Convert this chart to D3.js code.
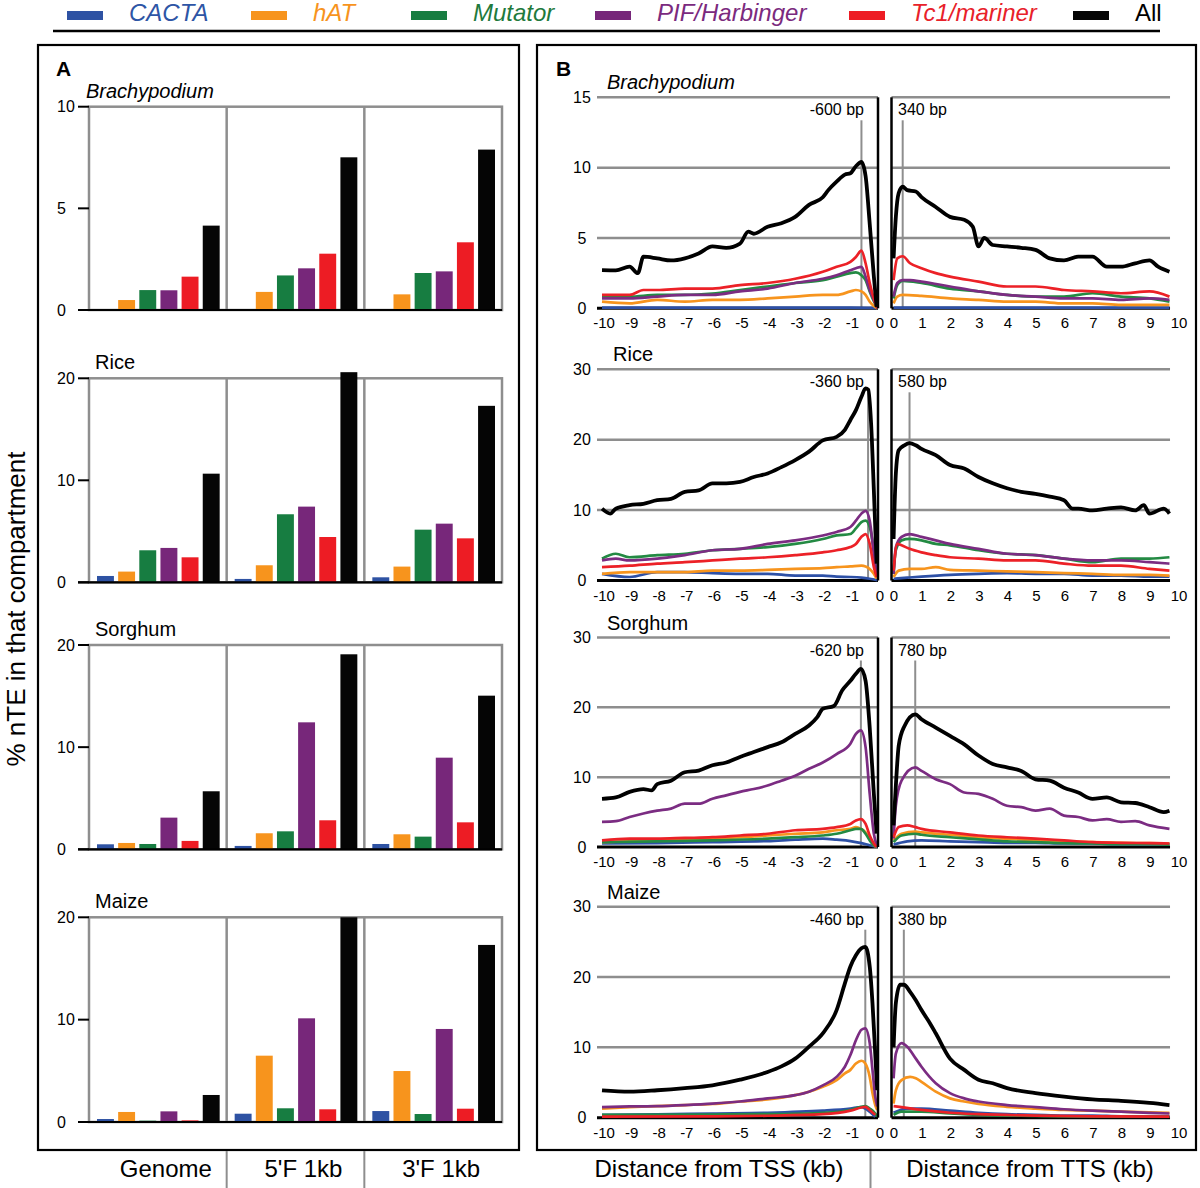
<!DOCTYPE html>
<html><head><meta charset="utf-8">
<script src="https://cdn.jsdelivr.net/npm/d3@7"></script>
<style>
body{margin:0;background:#fff}
svg{display:block}
text{font-family:"Liberation Sans",Arial,Helvetica,sans-serif}
</style>
</head><body>
<svg id="chart" width="1200" height="1188"></svg>
<script>
// ---------- DATA ----------
const families = ["CACTA","hAT","Mutator","PIF/Harbinger","Tc1/mariner","All"];
const barColors = ["#2e52a3","#f7941d","#177d41","#77277a","#ed1c24","#050505"];
const textColors = ["#2e55a5","#f7941d","#1f7a3d","#7b2a7e","#e8212a","#000000"];
const lineColors = ["#2d50a6","#f7941d","#238a43","#7b2c82","#ec2127","#000000"];
const compartments = ["Genome","5'F 1kb","3'F 1kb"];
const speciesNames = ["Brachypodium","Rice","Sorghum","Maize"];
const speciesItalic = [true,false,false,false];

const aTicks = [[0,5,10],[0,10,20],[0,10,20],[0,10,20]];
const aMax = [10,20,20,20];
const bTicks = [[0,5,10,15],[0,10,20,30],[0,10,20,30],[0,10,20,30]];
const bMax = [15,30,30,30];
const tssTicks = [-10,-9,-8,-7,-6,-5,-4,-3,-2,-1,0];
const ttsTicks = [0,1,2,3,4,5,6,7,8,9,10];

// % nTE per compartment, rows = compartments, cols = families
const brachyBars = [
  [0.03,0.49,0.98,0.97,1.64,4.15],
  [0.03,0.89,1.70,2.05,2.77,7.51],
  [0.03,0.77,1.82,1.90,3.33,7.89]];
const riceBars = [
  [0.62,1.05,3.14,3.37,2.45,10.65],
  [0.33,1.67,6.67,7.42,4.44,20.6],
  [0.49,1.54,5.16,5.75,4.31,17.3]];
const sorghumBars = [
  [0.49,0.62,0.52,3.10,0.82,5.68],
  [0.33,1.57,1.76,12.43,2.84,19.09],
  [0.52,1.47,1.24,8.97,2.64,15.04]];
const maizeBars = [
  [0.29,0.98,0.13,1.04,0.16,2.64],
  [0.81,6.48,1.34,10.13,1.24,20.0],
  [1.07,4.98,0.78,9.09,1.30,17.3]];

// peak positions (kb) and labels
const tssPeaks = [-0.6,-0.36,-0.62,-0.46];
const ttsPeaks = [0.34,0.58,0.78,0.38];
const tssPeakLabels = ["-600 bp","-360 bp","-620 bp","-460 bp"];
const ttsPeakLabels = ["340 bp","580 bp","780 bp","380 bp"];

// profiles: [kb, % nTE]
const brachyTSS = {
  "CACTA":[[-10,0.05],[-5,0.05],[-1,0.05],[-0.02,0.03]],
  "hAT":[[-10,0.47],[-9,0.35],[-8,0.6],[-7,0.47],[-6,0.6],[-5,0.6],[-4,0.7],[-3,0.83],[-2,0.95],[-1.5,0.95],[-1,1.2],[-0.8,1.3],[-0.6,1.2],[-0.45,0.95],[-0.3,0.47],[-0.15,0.17],[-0.02,0]],
  "Mutator":[[-10,0.83],[-9,0.83],[-8,0.95],[-7,0.95],[-6,1.05],[-5,1.3],[-4,1.55],[-3,1.8],[-2,2.0],[-1.5,2.25],[-1,2.5],[-0.8,2.55],[-0.6,2.35],[-0.45,2.0],[-0.3,1.2],[-0.15,0.5],[-0.02,0]],
  "PIF/Harbinger":[[-10,0.7],[-9,0.7],[-8,0.83],[-7,0.95],[-6,0.95],[-5,1.2],[-4,1.4],[-3,1.8],[-2,2.1],[-1.5,2.35],[-1,2.7],[-0.8,2.85],[-0.6,2.95],[-0.45,2.25],[-0.3,1.3],[-0.15,0.6],[-0.02,0]],
  "Tc1/mariner":[[-10,0.95],[-9,0.95],[-8.5,1.3],[-8,1.3],[-7,1.4],[-6,1.4],[-5,1.65],[-4,1.8],[-3,2.1],[-2,2.6],[-1.5,2.95],[-1,3.3],[-0.8,3.65],[-0.6,4.1],[-0.45,3.2],[-0.3,1.8],[-0.15,0.7],[-0.02,0]],
  "All":[[-10,2.72],[-9.5,2.7],[-9,2.96],[-8.7,2.5],[-8.5,3.67],[-8,3.55],[-7.5,3.4],[-7,3.55],[-6.5,3.9],[-6,4.4],[-5.5,4.3],[-5,4.6],[-4.7,5.45],[-4.5,5.3],[-4,5.8],[-3.5,6.05],[-3,6.5],[-2.5,7.35],[-2,7.9],[-1.8,8.4],[-1.5,9.0],[-1.2,9.5],[-1,9.6],[-0.8,10.1],[-0.6,10.4],[-0.45,9.4],[-0.3,6.0],[-0.15,2.25],[-0.05,0.1]]
};
const brachyTTS = {
  "CACTA":[[0.02,0.05],[5,0.05],[9.7,0.05]],
  "hAT":[[0.02,0.35],[0.15,0.83],[0.34,0.95],[1,0.88],[2,0.7],[3,0.6],[4,0.47],[5,0.47],[6,0.35],[7,0.35],[8,0.24],[9,0.24],[9.7,0.24]],
  "Mutator":[[0.02,0.7],[0.15,1.65],[0.34,1.95],[1,1.8],[2,1.4],[3,1.2],[4,0.95],[5,0.83],[6,0.83],[7,1.07],[8,0.83],[9,0.7],[9.7,0.47]],
  "PIF/Harbinger":[[0.02,0.83],[0.15,1.8],[0.34,2.0],[0.6,2.0],[1,1.9],[2,1.55],[3,1.2],[4,0.95],[5,0.83],[6,0.7],[7,0.7],[8,0.6],[9,0.7],[9.7,0.6]],
  "Tc1/mariner":[[0.02,2.0],[0.15,3.55],[0.34,3.7],[0.6,3.2],[1,2.85],[1.5,2.5],[2,2.25],[3,1.9],[4,1.55],[5,1.55],[6,1.3],[7,1.2],[8,1.07],[9,1.2],[9.7,0.83]],
  "All":[[0.02,3.55],[0.1,6.5],[0.2,8.2],[0.34,8.65],[0.5,8.4],[0.8,8.3],[1,7.9],[1.5,7.2],[2,6.5],[2.5,6.3],[2.8,5.8],[3,4.4],[3.2,5.0],[3.5,4.5],[4,4.4],[4.5,4.3],[5,4.15],[5.5,3.55],[6,3.4],[6.5,3.67],[7,3.67],[7.5,2.96],[8,2.96],[8.5,3.2],[9,3.4],[9.3,2.96],[9.7,2.6]]
};
const riceTSS = {
  "CACTA":[[-10,0.95],[-9,0.5],[-8,1.2],[-7,1.2],[-6,1.05],[-5,0.95],[-4,0.95],[-3,0.7],[-2,0.7],[-1.5,0.55],[-1,0.5],[-0.6,0.4],[-0.3,0.25],[-0.02,0.05]],
  "hAT":[[-10,0.95],[-9,1.2],[-8,1.2],[-7,1.2],[-6,1.4],[-5,1.4],[-4,1.5],[-3,1.65],[-2,1.75],[-1.5,1.9],[-1,2.0],[-0.6,2.1],[-0.45,2.0],[-0.3,1.65],[-0.15,0.95],[-0.05,0.25]],
  "Mutator":[[-10,3.1],[-9.5,3.8],[-9,3.3],[-8,3.6],[-7,3.8],[-6,4.3],[-5,4.5],[-4,4.75],[-3,5.2],[-2,5.9],[-1.5,6.4],[-1,6.6],[-0.8,7.4],[-0.6,8.3],[-0.45,8.5],[-0.3,7.6],[-0.15,4.3],[-0.05,1.4]],
  "PIF/Harbinger":[[-10,2.85],[-9.5,3.1],[-9,2.85],[-8,3.1],[-7,3.6],[-6,4.3],[-5,4.5],[-4,5.2],[-3,5.7],[-2,6.4],[-1.5,6.9],[-1,7.6],[-0.8,8.5],[-0.6,9.5],[-0.45,9.9],[-0.3,8.5],[-0.15,3.8],[-0.05,0.95]],
  "Tc1/mariner":[[-10,1.9],[-9,2.1],[-8,2.4],[-7,2.6],[-6,2.85],[-5,3.1],[-4,3.3],[-3,3.6],[-2,4.0],[-1.5,4.3],[-1,4.75],[-0.8,5.2],[-0.6,6.2],[-0.45,6.6],[-0.3,5.2],[-0.15,1.9],[-0.05,0.5]],
  "All":[[-10,10.2],[-9.7,9.5],[-9.5,10.2],[-9,10.7],[-8.5,10.9],[-8,11.4],[-7.5,11.6],[-7,12.6],[-6.5,12.8],[-6,13.8],[-5.5,13.8],[-5,14.0],[-4.5,14.7],[-4,15.2],[-3.5,16.1],[-3,17.1],[-2.5,18.3],[-2,19.9],[-1.5,20.4],[-1.2,21.4],[-1,22.8],[-0.8,24.2],[-0.6,26.1],[-0.45,27.3],[-0.35,27.1],[-0.25,22.3],[-0.15,12.8],[-0.05,2.4]]
};
const riceTTS = {
  "CACTA":[[0.02,0.25],[0.5,0.4],[1,0.55],[2,0.8],[3,0.95],[4,1.05],[5,0.95],[6,0.95],[7,0.7],[8,0.7],[9,0.55],[9.7,0.55]],
  "hAT":[[0.02,0.5],[0.2,1.4],[0.58,1.65],[1,1.65],[1.5,1.9],[2,1.5],[3,1.4],[4,1.3],[5,1.2],[6,1.05],[7,0.95],[8,0.8],[9,0.8],[9.7,0.7]],
  "Mutator":[[0.02,0.95],[0.1,4.3],[0.3,5.7],[0.58,5.9],[1,5.7],[1.5,5.2],[2,5.0],[3,4.3],[4,3.8],[5,3.6],[6,3.1],[7,2.6],[8,3.1],[9,3.1],[9.7,3.3]],
  "PIF/Harbinger":[[0.02,0.95],[0.1,4.75],[0.3,6.2],[0.58,6.6],[1,6.2],[1.5,5.7],[2,5.2],[3,4.5],[4,3.8],[5,3.6],[6,3.1],[7,2.85],[8,2.85],[9,2.6],[9.7,2.4]],
  "Tc1/mariner":[[0.02,1.4],[0.15,5.2],[0.3,5.0],[0.58,4.5],[1,4.0],[1.5,3.6],[2,3.3],[3,3.1],[4,2.85],[5,2.85],[6,2.4],[7,2.1],[8,2.1],[9,1.65],[9.7,1.4]],
  "All":[[0.02,5.9],[0.1,15.2],[0.2,18.5],[0.4,19.2],[0.58,19.5],[0.8,19.2],[1,18.7],[1.5,17.8],[2,16.4],[2.5,15.9],[3,14.7],[3.5,13.8],[4,13.1],[4.5,12.6],[5,12.3],[5.5,11.9],[6,11.4],[6.3,10.2],[6.5,10.2],[7,9.95],[7.5,10.2],[8,10.4],[8.5,9.95],[8.8,10.7],[9,9.5],[9.5,10.2],[9.7,9.5]]
};
const sorghumTSS = {
  "CACTA":[[-10,0.5],[-8,0.55],[-6,0.7],[-4,0.85],[-3,1.05],[-2,1.2],[-1.5,1.05],[-1,0.85],[-0.6,0.55],[-0.3,0.25],[-0.02,0]],
  "hAT":[[-10,0.7],[-8,0.95],[-6,1.2],[-4,1.65],[-3,1.9],[-2,2.1],[-1.5,2.4],[-1,2.6],[-0.8,2.85],[-0.62,2.6],[-0.45,2.1],[-0.3,1.2],[-0.15,0.25],[-0.05,0]],
  "Mutator":[[-10,0.7],[-8,0.8],[-6,0.95],[-4,1.2],[-3,1.4],[-2,1.65],[-1.5,1.9],[-1,2.4],[-0.8,2.6],[-0.62,2.6],[-0.45,1.9],[-0.3,0.95],[-0.15,0.25],[-0.05,0]],
  "PIF/Harbinger":[[-10,3.6],[-9.5,3.7],[-9,4.3],[-8.5,4.8],[-8,5.2],[-7.5,5.5],[-7,6.2],[-6.5,6.2],[-6,6.9],[-5.5,7.4],[-5,7.9],[-4.5,8.3],[-4,8.8],[-3.5,9.5],[-3,10.2],[-2.5,11.2],[-2,12.1],[-1.5,13.3],[-1,14.8],[-0.8,16.2],[-0.62,16.7],[-0.45,14.3],[-0.3,7.6],[-0.15,1.9],[-0.05,0.25]],
  "Tc1/mariner":[[-10,0.95],[-9,1.2],[-8,1.2],[-7,1.3],[-6,1.4],[-5,1.65],[-4,1.9],[-3,2.4],[-2,2.6],[-1.5,2.85],[-1,3.3],[-0.8,3.8],[-0.62,4.0],[-0.45,3.3],[-0.3,1.65],[-0.15,0.5],[-0.05,0]],
  "All":[[-10,6.9],[-9.5,7.1],[-9,7.9],[-8.5,8.3],[-8.2,8.1],[-8,9.0],[-7.5,9.5],[-7,10.7],[-6.5,10.95],[-6,11.7],[-5.5,12.1],[-5,12.9],[-4.5,13.6],[-4,14.3],[-3.5,15.0],[-3,16.2],[-2.5,17.4],[-2.2,18.6],[-2,19.8],[-1.6,20.2],[-1.3,22.4],[-1,23.8],[-0.8,24.8],[-0.62,25.5],[-0.45,23.8],[-0.3,17.1],[-0.15,7.6],[-0.05,1.9]]
};
const sorghumTTS = {
  "CACTA":[[0.02,0.35],[0.5,0.8],[1,0.95],[2,0.8],[3,0.7],[4,0.6],[5,0.6],[6,0.5],[7,0.5],[8,0.4],[9,0.4],[9.7,0.4]],
  "hAT":[[0.02,0.95],[0.3,1.9],[0.78,2.2],[1,2.1],[2,1.75],[3,1.4],[4,1.2],[5,0.95],[6,0.8],[7,0.7],[8,0.6],[9,0.55],[9.7,0.5]],
  "Mutator":[[0.02,0.7],[0.3,1.65],[0.78,1.9],[1,1.75],[2,1.4],[3,1.1],[4,0.8],[5,0.7],[6,0.55],[7,0.5],[8,0.4],[9,0.4],[9.7,0.35]],
  "PIF/Harbinger":[[0.02,1.2],[0.1,5.9],[0.3,9.5],[0.78,11.4],[1,10.9],[1.5,9.7],[2,9.0],[2.5,7.8],[3,7.6],[3.5,6.9],[4,5.9],[4.5,5.7],[5,5.2],[5.5,5.5],[6,4.5],[6.5,4.3],[7,3.8],[7.5,4.0],[8,3.6],[8.5,3.7],[9,3.1],[9.7,2.6]],
  "Tc1/mariner":[[0.02,1.4],[0.2,2.85],[0.5,3.1],[0.78,2.85],[1,2.6],[2,2.1],[3,1.65],[4,1.4],[5,1.2],[6,0.95],[7,0.7],[8,0.6],[9,0.55],[9.7,0.5]],
  "All":[[0.02,3.1],[0.1,8.8],[0.2,14.5],[0.4,17.3],[0.78,19.0],[1,18.3],[1.5,17.1],[2,15.9],[2.5,14.7],[3,13.1],[3.5,11.9],[4,11.4],[4.5,10.9],[5,9.7],[5.5,9.5],[6,8.5],[6.5,7.8],[7,6.9],[7.5,7.1],[8,6.4],[8.5,6.3],[9,5.7],[9.5,5.0],[9.7,5.2]]
};
const maizeTSS = {
  "CACTA":[[-10,0.4],[-8,0.47],[-6,0.6],[-4,0.7],[-2,1.0],[-1,1.3],[-0.6,1.5],[-0.46,1.3],[-0.3,0.85],[-0.1,0.15]],
  "hAT":[[-10,1.3],[-9,1.5],[-8,1.65],[-7,1.8],[-6,1.95],[-5,2.3],[-4,2.6],[-3,3.2],[-2.5,3.7],[-2,4.4],[-1.5,5.35],[-1.2,6.3],[-1,6.8],[-0.8,7.7],[-0.6,8.1],[-0.46,7.7],[-0.3,5.8],[-0.2,3.5],[-0.1,1.8],[-0.03,1.1]],
  "Mutator":[[-10,0.4],[-6,0.45],[-4,0.5],[-2,0.7],[-1,1.1],[-0.6,1.55],[-0.46,1.65],[-0.3,1.3],[-0.1,0.6],[-0.03,0.15]],
  "PIF/Harbinger":[[-10,1.5],[-9,1.6],[-8,1.65],[-7,1.8],[-6,2.0],[-5,2.3],[-4,2.75],[-3,3.2],[-2.5,3.7],[-2,4.6],[-1.5,5.8],[-1.2,7.25],[-1,8.9],[-0.8,11.0],[-0.6,12.5],[-0.46,12.7],[-0.3,10.6],[-0.2,6.8],[-0.1,3.0],[-0.03,1.6]],
  "Tc1/mariner":[[-10,0.15],[-6,0.2],[-4,0.28],[-2,0.5],[-1,1.0],[-0.6,1.45],[-0.46,1.55],[-0.3,1.1],[-0.1,0.4]],
  "All":[[-10,3.9],[-9,3.7],[-8,3.9],[-7,4.2],[-6,4.6],[-5,5.4],[-4,6.5],[-3.5,7.3],[-3,8.4],[-2.5,10.1],[-2,12.0],[-1.5,15.3],[-1.2,19.1],[-1,21.5],[-0.8,23.1],[-0.6,24.1],[-0.46,24.3],[-0.3,21.5],[-0.2,16.3],[-0.1,9.1],[-0.03,3.9]]
};
const maizeTTS = {
  "CACTA":[[0.02,0.7],[0.5,1.3],[1,1.3],[2,1.0],[3,0.7],[4,0.5],[5,0.4],[6,0.3],[7,0.3],[8,0.2],[9,0.2],[9.7,0.15]],
  "hAT":[[0.02,2.0],[0.1,3.9],[0.3,5.35],[0.6,5.8],[0.8,5.6],[1,5.1],[1.5,3.7],[2,2.75],[2.5,2.3],[3,1.95],[4,1.55],[5,1.3],[6,1.1],[7,1.0],[8,0.85],[9,0.75],[9.7,0.7]],
  "Mutator":[[0.02,0.4],[0.3,0.85],[1,0.85],[2,0.6],[3,0.4],[5,0.25],[7,0.15],[9.7,0.15]],
  "PIF/Harbinger":[[0.02,5.6],[0.1,9.1],[0.3,10.6],[0.5,10.1],[0.8,8.4],[1,7.25],[1.5,4.9],[2,3.5],[2.5,2.75],[3,2.3],[4,1.8],[5,1.5],[6,1.2],[7,1.0],[8,0.85],[9,0.7],[9.7,0.6]],
  "Tc1/mariner":[[0.02,1.65],[0.3,1.5],[1,1.1],[2,0.7],[3,0.5],[5,0.3],[7,0.2],[9.7,0.15]],
  "All":[[0.02,10.0],[0.1,16.3],[0.25,18.9],[0.38,18.9],[0.6,17.9],[0.8,16.7],[1,15.3],[1.3,13.4],[1.5,12.0],[2,8.4],[2.5,6.8],[3,5.4],[3.5,4.9],[4,4.2],[5,3.5],[6,3.0],[7,2.6],[8,2.4],[9,2.1],[9.7,1.8]]
};

const allBars = [brachyBars, riceBars, sorghumBars, maizeBars];
const allTSS = [brachyTSS, riceTSS, sorghumTSS, maizeTSS];
const allTTS = [brachyTTS, riceTTS, sorghumTTS, maizeTTS];

// ---------- LAYOUT ----------
const svg = d3.select("#chart");
const GRID = "#8e8e8e";
const aTop = [106.7, 378.3, 645, 917.3];
const aBot = [310, 582.3, 849.3, 1122];
const bTop = [97.3, 369.3, 637.5, 906.7];
const bBot = [308.3, 580.5, 847, 1117.7];
const aLeft = 89, aRight = 502;

// Legend
const legX = [67, 251, 411, 595, 849, 1073];
const leg = svg.append("g");
families.forEach((f, i) => {
  leg.append("rect").attr("x", legX[i]).attr("y", 11).attr("width", 36).attr("height", 9).attr("fill", barColors[i]);
  leg.append("text").attr("x", legX[i] + 62).attr("y", 21)
    .attr("font-size", 24).attr("font-style", f === "All" ? "normal" : "italic")
    .attr("fill", textColors[i]).text(f);
});
leg.append("line").attr("x1", 53).attr("x2", 1160).attr("y1", 31).attr("y2", 31).attr("stroke", "#000").attr("stroke-width", 2.5);

// Panel frames
svg.append("rect").attr("x", 38).attr("y", 45).attr("width", 481).attr("height", 1105).attr("fill", "none").attr("stroke", "#000").attr("stroke-width", 2.2);
svg.append("rect").attr("x", 537).attr("y", 45).attr("width", 659).attr("height", 1105).attr("fill", "none").attr("stroke", "#000").attr("stroke-width", 2.2);
svg.append("text").attr("x", 56).attr("y", 76).attr("font-size", 21).attr("font-weight", "bold").text("A");
svg.append("text").attr("x", 556).attr("y", 76).attr("font-size", 21).attr("font-weight", "bold").text("B");

// ---------- PANEL A ----------
const gx = d3.scaleBand(compartments, [aLeft, aRight]);
speciesNames.forEach((sp, i) => {
  const g = svg.append("g");
  const y = d3.scaleLinear([0, aMax[i]], [aBot[i], aTop[i]]);
  g.append("rect").attr("x", aLeft).attr("y", y(aMax[i])).attr("width", aRight - aLeft).attr("height", y(0) - y(aMax[i]))
    .attr("fill", "none").attr("stroke", GRID).attr("stroke-width", 2.5);
  compartments.slice(1).forEach(c => {
    g.append("line").attr("x1", gx(c)).attr("x2", gx(c)).attr("y1", y(aMax[i])).attr("y2", y(0)).attr("stroke", GRID).attr("stroke-width", 2.5);
  });
  allBars[i].forEach((vals, j) => {
    const x0 = gx(compartments[j]);
    const bx = d3.scaleBand(families, [x0 + 8, x0 + gx.bandwidth() - 7]).paddingInner(0.2);
    g.selectAll(null).data(vals).join("rect")
      .attr("x", (d, k) => bx(families[k]))
      .attr("y", d => y(d))
      .attr("width", bx.bandwidth())
      .attr("height", d => y(0) - y(d))
      .attr("fill", (d, k) => barColors[k]);
  });
  g.append("line").attr("x1", 78).attr("x2", aRight).attr("y1", y(0)).attr("y2", y(0)).attr("stroke", "#000").attr("stroke-width", 2.2);
  aTicks[i].forEach(t => {
    g.append("line").attr("x1", 78).attr("x2", aLeft).attr("y1", y(t)).attr("y2", y(t)).attr("stroke", "#000").attr("stroke-width", 2);
    g.append("text").attr("x", 57).attr("y", y(t)).attr("dy", "0.36em").attr("font-size", 16).text(t);
  });
  g.append("text").attr("x", i === 0 ? 86 : 95).attr("y", y(aMax[i]) - 9).attr("font-size", 20)
    .attr("font-style", speciesItalic[i] ? "italic" : "normal").text(sp);
});
// A bottom labels
compartments.forEach(c => {
  svg.append("text").attr("x", gx(c) + gx.bandwidth() / 2 + 8).attr("y", 1177).attr("text-anchor", "middle").attr("font-size", 24).text(c);
});
compartments.slice(1).forEach(c => {
  svg.append("line").attr("x1", gx(c)).attr("x2", gx(c)).attr("y1", 1151).attr("y2", 1188).attr("stroke", GRID).attr("stroke-width", 2);
});
svg.append("text").attr("transform", "translate(16,609) rotate(-90)").attr("text-anchor", "middle").attr("dy", "0.36em")
  .attr("font-size", 26).text("% nTE in that compartment");

// ---------- PANEL B ----------
const xL = d3.scaleLinear([-10, 0], [602, 878]);
const xR = d3.scaleLinear([0, 10], [893, 1178]);
const gridL0 = xL(-10) - 5, gridL1 = xL(0), gridR0 = xR(0) - 1.5, gridR1 = xR(9.72);
speciesNames.forEach((sp, i) => {
  const g = svg.append("g");
  const y = d3.scaleLinear([0, bMax[i]], [bBot[i], bTop[i]]);
  bTicks[i].filter(t => t > 0).forEach(t => {
    g.append("line").attr("x1", gridL0).attr("x2", gridL1).attr("y1", y(t)).attr("y2", y(t)).attr("stroke", GRID).attr("stroke-width", 2.5);
    g.append("line").attr("x1", gridR0).attr("x2", gridR1).attr("y1", y(t)).attr("y2", y(t)).attr("stroke", GRID).attr("stroke-width", 2.5);
  });
  // peak markers
  g.append("line").attr("x1", xL(tssPeaks[i])).attr("x2", xL(tssPeaks[i])).attr("y1", y(bMax[i]) + 23).attr("y2", y(0)).attr("stroke", GRID).attr("stroke-width", 2);
  g.append("line").attr("x1", xR(ttsPeaks[i])).attr("x2", xR(ttsPeaks[i])).attr("y1", y(bMax[i]) + 23).attr("y2", y(0)).attr("stroke", GRID).attr("stroke-width", 2);
  g.append("text").attr("x", 864).attr("y", y(bMax[i]) + 18).attr("text-anchor", "end").attr("font-size", 16).text(tssPeakLabels[i]);
  g.append("text").attr("x", 898).attr("y", y(bMax[i]) + 18).attr("font-size", 16).text(ttsPeakLabels[i]);
  // baseline
  g.append("line").attr("x1", gridL0).attr("x2", gridL1).attr("y1", y(0)).attr("y2", y(0)).attr("stroke", "#000").attr("stroke-width", 3);
  g.append("line").attr("x1", gridR0).attr("x2", gridR1).attr("y1", y(0)).attr("y2", y(0)).attr("stroke", "#000").attr("stroke-width", 3);
  // curves
  const lineL = d3.line().x(d => xL(d[0])).y(d => y(d[1])).curve(d3.curveMonotoneX);
  const lineR = d3.line().x(d => xR(d[0])).y(d => y(d[1])).curve(d3.curveMonotoneX);
  families.forEach((f, k) => {
    const w = f === "All" ? 3.8 : 2.7;
    g.append("path").attr("d", lineL(allTSS[i][f])).attr("fill", "none").attr("stroke", lineColors[k]).attr("stroke-width", w).attr("stroke-linejoin", "round");
    g.append("path").attr("d", lineR(allTTS[i][f])).attr("fill", "none").attr("stroke", lineColors[k]).attr("stroke-width", w).attr("stroke-linejoin", "round");
  });
  // black frame verticals
  g.append("line").attr("x1", xL(0)).attr("x2", xL(0)).attr("y1", y(bMax[i])).attr("y2", y(0)).attr("stroke", "#000").attr("stroke-width", 2.5);
  g.append("line").attr("x1", gridR0).attr("x2", gridR0).attr("y1", y(bMax[i])).attr("y2", y(0)).attr("stroke", "#000").attr("stroke-width", 2.5);
  // y tick labels
  bTicks[i].forEach(t => {
    g.append("text").attr("x", 582).attr("y", y(t)).attr("dy", "0.36em").attr("text-anchor", "middle").attr("font-size", 16).text(t);
  });
  // x tick labels
  tssTicks.forEach(t => {
    g.append("text").attr("x", xL(t) + 2).attr("y", y(0) + 20).attr("text-anchor", "middle").attr("font-size", 15).text(t);
  });
  ttsTicks.forEach(t => {
    g.append("text").attr("x", xR(t) + 1).attr("y", y(0) + 20).attr("text-anchor", "middle").attr("font-size", 15).text(t);
  });
  g.append("text").attr("x", i === 1 ? 613 : 607).attr("y", y(bMax[i]) - 8).attr("font-size", 20)
    .attr("font-style", speciesItalic[i] ? "italic" : "normal").text(sp);
});
svg.append("text").attr("x", 719).attr("y", 1177).attr("text-anchor", "middle").attr("font-size", 24).text("Distance from TSS (kb)");
svg.append("text").attr("x", 1030).attr("y", 1177).attr("text-anchor", "middle").attr("font-size", 24).text("Distance from TTS (kb)");
svg.append("line").attr("x1", 870.5).attr("x2", 870.5).attr("y1", 1151).attr("y2", 1188).attr("stroke", GRID).attr("stroke-width", 2);
</script>
</body></html>
